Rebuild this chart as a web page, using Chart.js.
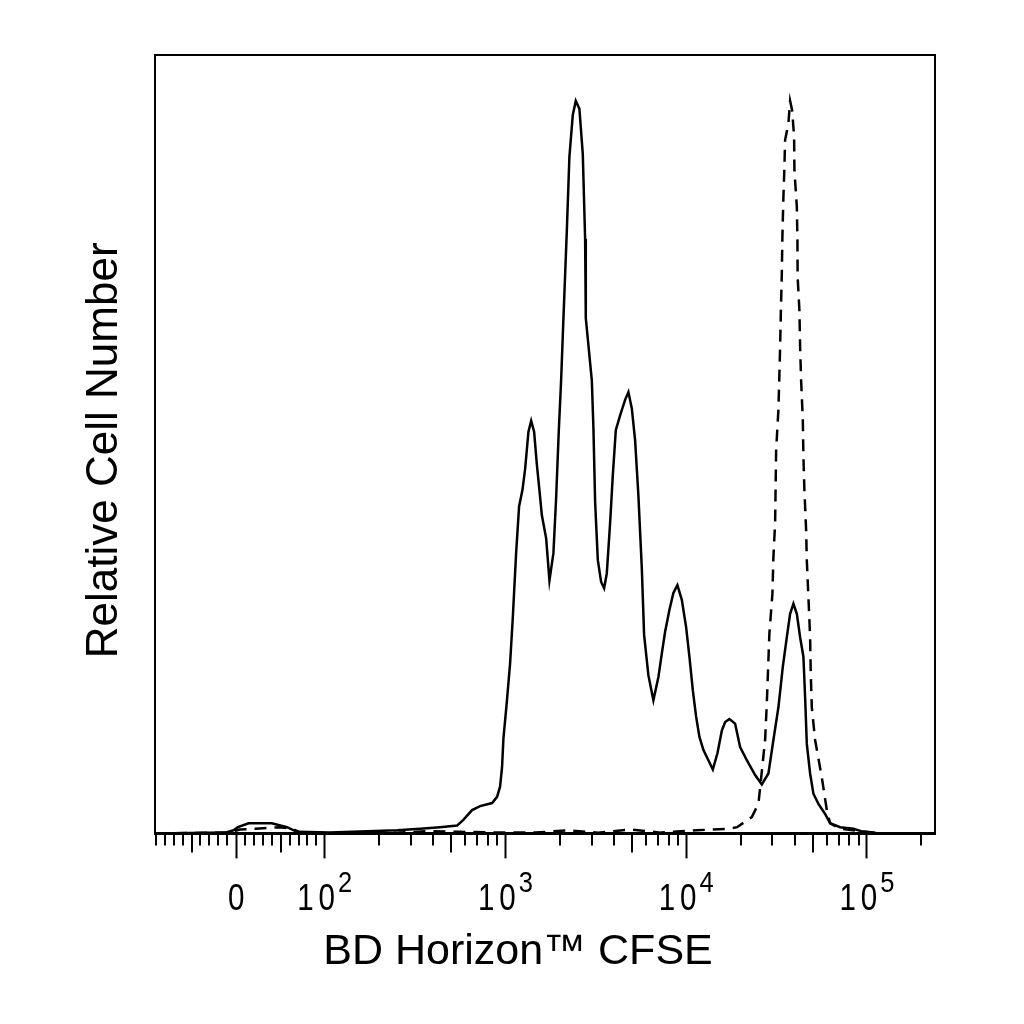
<!DOCTYPE html>
<html>
<head>
<meta charset="utf-8">
<script src="https://cdn.jsdelivr.net/npm/chart.js@4/dist/chart.umd.min.js"></script>
<style>
  html, body { margin: 0; padding: 0; background: #fff; }
  #wrap { width: 1024px; height: 1024px; }
</style>
</head>
<body>
<div id="wrap"><canvas id="histo"></canvas></div>
<script>
// CFSE intensity (bin centres) and relative counts
var solidX = [-91, -12, -3, 2, 14, 40, 57, 68, 107, 252, 337, 435, 540, 583, 654, 724, 844, 899, 934, 958,
  975, 1018, 1061, 1099, 1146, 1190, 1242, 1285, 1341, 1388, 1441, 1491, 1542, 1590, 1680, 1752, 1843, 1907, 1974, 2033,
  2094, 2186, 2259, 2359, 2451, 2566, 2679, 2760, 2784, 3006, 3068, 3135, 3245, 3384, 3516, 3638, 3795, 3927, 4080, 4310,
  4593, 4791, 5003, 5218, 5441, 5682, 5851, 6181, 6586, 7020, 7331, 7645, 8076, 8497, 8943, 9459, 9991, 10420, 10880, 11350,
  11840, 12460, 13270, 14040, 14890, 15750, 16430, 17350, 18650, 19880, 21650, 24070, 26210, 28510, 30380, 32380, 34240, 36040, 37580, 39200,
  40940, 42690, 44520, 45500, 46490, 48490, 50570, 53900, 58690, 62560, 71060, 84190, 95610, 118300, 238000];
var solidY = [0, 0.1, 0.4, 0.8, 1.3, 1.3, 0.8, 0.2, 0.1, 0.4, 0.6, 0.8, 1.0, 1.7, 3.0, 3.5, 3.9, 4.7, 6.0, 8.5,
  12.2, 16.9, 21.8, 27.8, 36.0, 42.0, 44.1, 46.8, 51.6, 53.0, 51.6, 47.5, 44.1, 40.9, 37.9, 32.5, 36.0, 43.0, 51.8, 58.2,
  66.2, 77.4, 86.9, 92.3, 94.1, 93.1, 87.3, 76.4, 66.2, 58.2, 52.1, 42.6, 35.1, 32.3, 31.5, 33.4, 39.9, 46.0, 51.8, 53.7,
  55.7, 56.7, 54.6, 50.5, 43.4, 34.1, 25.5, 20.3, 17.1, 20.1, 23.1, 25.9, 28.7, 30.9, 31.9, 30.0, 26.5, 22.7, 18.4, 15.0,
  12.4, 10.7, 9.4, 8.2, 10.3, 13.2, 14.3, 14.7, 14.1, 11.1, 9.4, 7.5, 6.3, 7.7, 12.0, 16.2, 21.4, 25.2, 28.2, 29.5,
  28.2, 25.2, 22.7, 17.5, 11.5, 7.7, 5.1, 3.8, 2.5, 1.3, 0.8, 0.6, 0.2, 0, 0];

var dashX = [-91, -7, 4, 22, 49, 63, 72, 107, 258, 383, 561, 934, 1459, 2194, 3257, 4896, 7266, 11350, 17280, 19130,
  23070, 25100, 27330, 27930, 28870, 30000, 30380, 31050, 31450, 32380, 32800, 33090, 33390, 33820, 34070, 34510, 34950, 35270, 36780, 37580,
  38560, 39550, 39700, 40940, 41260, 41360, 42310, 42690, 43240, 44190, 44520, 45090, 46080, 46490, 47450, 48490, 48900, 49550, 51680, 56280,
  59980, 62560, 71060, 99860, 118300, 238000];
var dashY = [0, 0.1, 0.5, 0.6, 0.8, 0.6, 0.1, 0, 0.1, 0.3, 0.2, 0.1, 0.1, 0.4, 0.1, 0.5, 0.1, 0.4, 0.6, 0.8,
  2.1, 3.8, 12.0, 16.7, 25.7, 30.8, 35.5, 39.9, 49.2, 54.4, 59.1, 62.5, 66.8, 72.0, 76.7, 81.8, 85.6, 89.1, 91.2, 94.1,
  92.9, 89.5, 85.2, 80.5, 76.2, 71.5, 67.2, 62.5, 58.2, 53.1, 48.4, 44.1, 39.0, 35.1, 30.4, 25.2, 20.5, 16.2, 12.0, 7.2,
  3.0, 1.3, 0.6, 0.2, 0, 0];

var majorTicks = [0, 100, 1000, 10000, 100000];
var tickBase = ['0', '10', '10', '10', '10'];
var tickExp = ['', '2', '3', '4', '5'];
var midTicks = [-50, 50, 500, 5000, 50000];
var minorTicks = [-90, -80, -70, -60, -40, -30, -20, -10, 10, 20, 30, 40, 60, 70, 80, 90,
  200, 300, 400, 600, 700, 800, 900, 2000, 3000, 4000, 6000, 7000, 8000, 9000,
  20000, 30000, 40000, 60000, 70000, 80000, 90000, 200000];

// biexponential-ish display transform: linear near zero, log above
var LIN = 88;
function biex(v) {
  var a = Math.abs(v);
  var d = a < LIN ? a / (LIN * Math.LN10) : Math.log10(a / LIN) + 1 / Math.LN10;
  return v < 0 ? -d : d;
}

function pts(xs, ys) {
  var out = [];
  for (var i = 0; i < xs.length; i++) out.push({x: biex(xs[i]), y: ys[i]});
  return out;
}

var FONT = 'Liberation Sans, Arial, sans-serif';

// tall narrow digits like the cytometer software labels
function textRun(ctx, str, size, sx, track) {
  ctx.font = size + 'px ' + FONT;
  var w = 0;
  for (var i = 0; i < str.length; i++) {
    w += ctx.measureText(str[i]).width * sx;
    if (i < str.length - 1) w += track;
  }
  return w;
}
function drawRun(ctx, str, x, y, size, sx, track) {
  ctx.font = size + 'px ' + FONT;
  for (var i = 0; i < str.length; i++) {
    ctx.save();
    ctx.translate(x, y);
    ctx.scale(sx, 1);
    ctx.fillText(str[i], 0, 0);
    ctx.restore();
    x += ctx.measureText(str[i]).width * sx + track;
  }
}

var frameAndTicks = {
  id: 'frameAndTicks',
  afterDraw: function (chart) {
    var ctx = chart.ctx, a = chart.chartArea, xs = chart.scales.x;
    ctx.save();
    ctx.strokeStyle = '#000';
    ctx.lineWidth = 2;
    ctx.strokeRect(a.left, a.top, a.right - a.left, a.bottom - a.top);
    function tick(v, len) {
      var px = Math.round(xs.getPixelForValue(biex(v)));
      ctx.beginPath();
      ctx.moveTo(px, a.bottom);
      ctx.lineTo(px, a.bottom + len);
      ctx.stroke();
    }
    midTicks.forEach(function (v) { tick(v, 19); });
    minorTicks.forEach(function (v) { tick(v, 12); });

    // decade labels: base plus raised exponent, centred on the tick
    ctx.fillStyle = '#000';
    ctx.textBaseline = 'alphabetic';
    ctx.textAlign = 'left';
    majorTicks.forEach(function (v, i) {
      var px = xs.getPixelForValue(biex(v));
      var bw = textRun(ctx, tickBase[i], 36, 0.82, 5);
      var ew = tickExp[i] ? textRun(ctx, tickExp[i], 30, 0.85, 0) + 3 : 0;
      var x0 = px - (bw + ew) / 2;
      drawRun(ctx, tickBase[i], x0, a.bottom + 77, 36, 0.82, 5);
      if (tickExp[i]) drawRun(ctx, tickExp[i], x0 + bw + 3, a.bottom + 59, 30, 0.85, 0);
    });
    ctx.restore();
  }
};

new Chart(document.getElementById('histo'), {
  type: 'scatter',
  data: {
    datasets: [{
      label: 'stimulated',
      data: pts(solidX, solidY),
      showLine: true,
      borderColor: '#000',
      borderWidth: 2.5,
      pointRadius: 0,
      tension: 0
    }, {
      label: 'unstimulated',
      data: pts(dashX, dashY),
      showLine: true,
      borderColor: '#000',
      borderWidth: 2.5,
      borderDash: [12, 8],
      pointRadius: 0,
      tension: 0
    }]
  },
  options: {
    responsive: true,
    maintainAspectRatio: false,
    devicePixelRatio: 1,
    animation: false,
    layout: { padding: { left: 12, top: 55, right: 0, bottom: 0 } },
    plugins: {
      legend: { display: false },
      tooltip: { enabled: false },
      title: {
        display: true,
        position: 'bottom',
        text: 'BD Horizon\u2122 CFSE',
        color: '#000',
        font: { family: FONT, size: 43, weight: 'normal' },
        padding: { top: 0, bottom: 46 }
      }
    },
    scales: {
      x: {
        type: 'linear',
        min: biex(-91),
        max: biex(238000),
        afterBuildTicks: function (scale) {
          scale.ticks = majorTicks.map(function (v) { return {value: biex(v)}; });
        },
        afterFit: function (scale) { scale.height = 93; },
        grid: { display: true, drawOnChartArea: false, drawTicks: true, tickLength: 25, tickWidth: 2, tickColor: '#000' },
        border: { display: true, color: '#000', width: 3 },
        ticks: { display: false, autoSkip: false, maxRotation: 0 }
      },
      y: {
        min: 0,
        max: 100,
        afterFit: function (scale) { scale.width = 143; },
        grid: { display: false },
        border: { display: false },
        ticks: { display: false },
        title: {
          display: true,
          text: 'Relative Cell Number ',
          color: '#000',
          font: { family: FONT, size: 44, weight: 'normal' },
          padding: { top: 66, bottom: 0 }
        }
      },
      yR: {
        position: 'right',
        min: 0,
        max: 1,
        afterFit: function (scale) { scale.width = 89; },
        grid: { display: false },
        border: { display: false },
        ticks: { display: false }
      }
    }
  },
  plugins: [frameAndTicks]
});
</script>
</body>
</html>
